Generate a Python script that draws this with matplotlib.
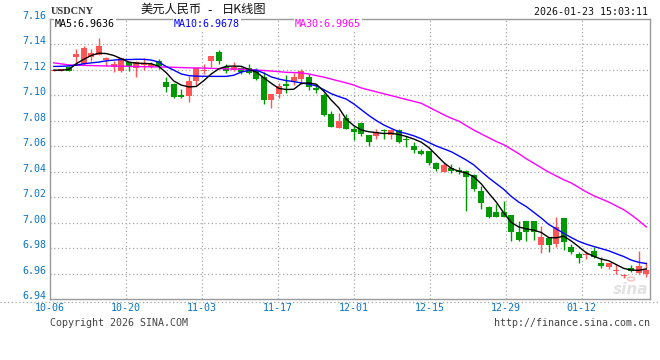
import matplotlib
matplotlib.use("Agg")
import matplotlib.pyplot as plt
from matplotlib.lines import Line2D
import numpy as np

# ---------------- data ----------------
symbol = "USDCNY"
title_left = "美元人民币"
title_right = "日K线图"
timestamp = "2026-01-23 15:03:11"
date_labels = ["10-06", "10-20", "11-03", "11-17", "12-01", "12-15", "12-29", "01-12"]
y_ticks = [6.94, 6.96, 6.98, 7.00, 7.02, 7.04, 7.06, 7.08, 7.10, 7.12, 7.14, 7.16]
ma_names = ["MA5", "MA10", "MA30"]
ma_last = [6.9636, 6.9678, 6.9965]

open_ = [7.1190, 7.1192, 7.1221, 7.1300, 7.1240, 7.1300, 7.1311, 7.1278, 7.1221, 7.1190,
         7.1256, 7.1209, 7.1235, 7.1221, 7.1266, 7.1103, 7.1083, 7.1001, 7.0991, 7.1111,
         7.1190, 7.1266, 7.1335, 7.1221, 7.1200, 7.1209, 7.1209, 7.1190, 7.1138, 7.0959,
         7.1006, 7.1085, 7.1109, 7.1124, 7.1138, 7.1056, 7.0998, 7.0849, 7.0741, 7.0820,
         7.0731, 7.0780, 7.0683, 7.0676, 7.0725, 7.0683, 7.0723, 7.0652, 7.0603, 7.0557,
         7.0557, 7.0465, 7.0400, 7.0426, 7.0405, 7.0402, 7.0376, 7.0250, 7.0124, 7.0080,
         7.0080, 7.0061, 6.9922, 7.0014, 7.0014, 6.9825, 6.9875, 6.9835, 7.0035, 6.9804,
         6.9752, 6.9742, 6.9778, 6.9686, 6.9652, 6.9619, 6.9579, 6.9646, 6.9607, 6.9594]
high = [7.1205, 7.1205, 7.1225, 7.1357, 7.1387, 7.1357, 7.1445, 7.1300, 7.1266, 7.1292,
        7.1258, 7.1264, 7.1293, 7.1261, 7.1282, 7.1143, 7.1091, 7.1046, 7.1148, 7.1217,
        7.1243, 7.1308, 7.1353, 7.1240, 7.1261, 7.1221, 7.1243, 7.1209, 7.1182, 7.1004,
        7.1091, 7.1156, 7.1169, 7.1203, 7.1161, 7.1085, 7.1017, 7.0872, 7.0859, 7.0854,
        7.0754, 7.0788, 7.0683, 7.0731, 7.0736, 7.0736, 7.0736, 7.0676, 7.0635, 7.0578,
        7.0560, 7.0473, 7.0465, 7.0461, 7.0434, 7.0408, 7.0382, 7.0289, 7.0130, 7.0149,
        7.0172, 7.0061, 7.0014, 7.0014, 7.0014, 6.9975, 6.9883, 7.0040, 7.0035, 6.9831,
        6.9765, 6.9778, 6.9804, 6.9731, 6.9686, 6.9673, 6.9600, 6.9668, 6.9778, 6.9694]
low = [7.1185, 7.1188, 7.1188, 7.1235, 7.1237, 7.1266, 7.1311, 7.1229, 7.1182, 7.1178,
       7.1190, 7.1138, 7.1195, 7.1209, 7.1201, 7.1024, 7.0977, 7.0980, 7.0946, 7.1072,
       7.1161, 7.1221, 7.1240, 7.1169, 7.1187, 7.1161, 7.1161, 7.1116, 7.0928, 7.0898,
       7.0980, 7.1012, 7.1077, 7.1083, 7.1043, 7.1012, 7.0835, 7.0749, 7.0741, 7.0731,
       7.0644, 7.0676, 7.0597, 7.0657, 7.0657, 7.0657, 7.0623, 7.0591, 7.0544, 7.0531,
       7.0453, 7.0402, 7.0395, 7.0387, 7.0382, 7.0087, 7.0245, 7.0107, 7.0035, 7.0040,
       7.0040, 6.9851, 6.9851, 6.9851, 6.9861, 6.9757, 6.9765, 6.9804, 6.9787, 6.9752,
       6.9686, 6.9712, 6.9722, 6.9642, 6.9634, 6.9599, 6.9563, 6.9614, 6.9599, 6.9573]
close = [7.1200, 7.1198, 7.1190, 7.1319, 7.1371, 7.1331, 7.1386, 7.1282, 7.1240, 7.1287,
         7.1229, 7.1261, 7.1245, 7.1240, 7.1227, 7.1064, 7.0985, 7.0987, 7.1109, 7.1209,
         7.1200, 7.1308, 7.1269, 7.1190, 7.1217, 7.1182, 7.1170, 7.1124, 7.0959, 7.1004,
         7.1072, 7.1072, 7.1143, 7.1187, 7.1064, 7.1038, 7.0841, 7.0749, 7.0796, 7.0731,
         7.0710, 7.0691, 7.0631, 7.0710, 7.0720, 7.0728, 7.0631, 7.0647, 7.0568, 7.0534,
         7.0468, 7.0421, 7.0453, 7.0402, 7.0400, 7.0355, 7.0264, 7.0150, 7.0045, 7.0046,
         7.0046, 6.9928, 6.9865, 6.9922, 6.9922, 6.9883, 6.9823, 6.9967, 6.9850, 6.9765,
         6.9720, 6.9746, 6.9731, 6.9660, 6.9686, 6.9623, 6.9583, 6.9620, 6.9660, 6.9628]

ma5 = [7.1195, 7.1195, 7.1200, 7.1245, 7.1280, 7.1310, 7.1328, 7.1325, 7.1310, 7.1285,
       7.1258, 7.1250, 7.1248, 7.1245, 7.1225, 7.1175, 7.1110, 7.1078, 7.1063, 7.1067,
       7.1112, 7.1165, 7.1205, 7.1225, 7.1227, 7.1225, 7.1200, 7.1180, 7.1135, 7.1092,
       7.1052, 7.1043, 7.1045, 7.1090, 7.1095, 7.1085, 7.1030, 7.0960, 7.0900, 7.0810,
       7.0760, 7.0725, 7.0712, 7.0705, 7.0698, 7.0700, 7.0690, 7.0675, 7.0655, 7.0630,
       7.0588, 7.0530, 7.0470, 7.0425, 7.0402, 7.0388, 7.0360, 7.0303, 7.0230, 7.0160,
       7.0075, 7.0000, 6.9965, 6.9950, 6.9940, 6.9922, 6.9882, 6.9880, 6.9893, 6.9855,
       6.9810, 6.9762, 6.9735, 6.9713, 6.9700, 6.9670, 6.9640, 6.9627, 6.9625, 6.9636]
ma10 = [7.1224, 7.1225, 7.1228, 7.1234, 7.1245, 7.1252, 7.1258, 7.1268, 7.1274, 7.1278,
        7.1278, 7.1280, 7.1280, 7.1274, 7.1258, 7.1223, 7.1195, 7.1165, 7.1152, 7.1148,
        7.1147, 7.1146, 7.1146, 7.1146, 7.1155, 7.1180, 7.1192, 7.1195, 7.1172, 7.1142,
        7.1125, 7.1113, 7.1105, 7.1095, 7.1085, 7.1072, 7.1042, 7.1010, 7.0988, 7.0968,
        7.0930, 7.0885, 7.0840, 7.0800, 7.0765, 7.0738, 7.0712, 7.0698, 7.0680, 7.0657,
        7.0628, 7.0600, 7.0578, 7.0555, 7.0523, 7.0490, 7.0452, 7.0400, 7.0350, 7.0305,
        7.0260, 7.0205, 7.0160, 7.0125, 7.0080, 7.0035, 6.9985, 6.9950, 6.9915, 6.9882,
        6.9852, 6.9830, 6.9812, 6.9795, 6.9778, 6.9755, 6.9733, 6.9705, 6.9688, 6.9678]
ma30 = [7.1252, 7.1244, 7.1236, 7.1234, 7.1232, 7.1231, 7.1229, 7.1228, 7.1227, 7.1226,
        7.1225, 7.1223, 7.1222, 7.1221, 7.1220, 7.1219, 7.1217, 7.1215, 7.1213, 7.1212,
        7.1211, 7.1209, 7.1207, 7.1205, 7.1203, 7.1202, 7.1200, 7.1196, 7.1192, 7.1188,
        7.1183, 7.1178, 7.1176, 7.1173, 7.1165, 7.1152, 7.1140, 7.1125, 7.1110, 7.1095,
        7.1078, 7.1055, 7.1040, 7.1025, 7.1010, 7.0995, 7.0980, 7.0965, 7.0950, 7.0935,
        7.0905, 7.0875, 7.0845, 7.0818, 7.0795, 7.0760, 7.0725, 7.0695, 7.0665, 7.0635,
        7.0610, 7.0575, 7.0540, 7.0500, 7.0465, 7.0430, 7.0395, 7.0365, 7.0335, 7.0310,
        7.0275, 7.0240, 7.0210, 7.0185, 7.0160, 7.0130, 7.0100, 7.0060, 7.0015, 6.9965]

# ---------------- layout ----------------
W, H = 660, 360
def fx(px):
    return px / W
def fy(py):
    return 1 - py / H

PLOT_L, PLOT_R, PLOT_T, PLOT_B = 50, 650, 18.5, 299
MONO = "DejaVu Sans Mono"
CJK = ["Noto Sans CJK SC", "DejaVu Sans"]
FS = 7.2
UP, DOWN = "#ff5555", "#009a00"
GRID = "#a8a8a8"
BORDER = "#9a9a9a"
LABEL_BLUE = "#0a74c4"

fig = plt.figure(figsize=(W / 100, H / 100), dpi=100)
fig.patch.set_facecolor("white")
ax = fig.add_axes([fx(PLOT_L), fy(PLOT_B), (PLOT_R - PLOT_L) / W, (PLOT_B - PLOT_T) / H])

n = len(close)
x = np.arange(n)
ax.set_xlim(-0.5, n - 0.5)
ax.set_ylim(y_ticks[0], y_ticks[-1])

# grid (dotted)
for v in y_ticks[1:-1]:
    ax.axhline(v, color=GRID, lw=0.9, ls=(0, (1, 2)), zorder=1)
slot_px = (PLOT_R - PLOT_L) / n
grid_step_px = (PLOT_R - PLOT_L) / 7.9
tick_pos = [-0.5 + i * grid_step_px / slot_px for i in range(len(date_labels))]
for t in tick_pos[1:]:
    ax.axvline(t, color=GRID, lw=0.9, ls=(0, (1, 2)), zorder=1)

# candles
ypp = (y_ticks[-1] - y_ticks[0]) / (PLOT_B - PLOT_T)  # price per pixel
for i in range(n):
    o, h, l, c = open_[i], high[i], low[i], close[i]
    col = UP if c >= o else DOWN
    ax.vlines(i, l, h, color=col, lw=1.0, zorder=2)
    bot = min(o, c)
    hgt = max(abs(c - o), 1.2 * ypp)
    ax.bar(i, hgt, bottom=bot, width=0.8, color=col, edgecolor=col, lw=0, zorder=3)

# moving averages
ax.plot(x, ma30, color="#ff00ff", lw=1.0, zorder=4)
ax.plot(x, ma10, color="#0000ff", lw=1.0, zorder=5)
ax.plot(x, ma5, color="#000000", lw=1.0, zorder=6)

# axes styling
ax.set_xticks([])
ax.set_yticks([])
for s in ax.spines.values():
    s.set_color(BORDER)
    s.set_linewidth(1.0)

# y labels
for v in y_ticks:
    ax.text(-4 / (PLOT_R - PLOT_L), v, f"{v:.2f}", transform=ax.get_yaxis_transform(),
            ha="right", va="baseline", fontsize=FS, family=MONO, color=LABEL_BLUE)

# x labels
for t, lab in zip(tick_pos, date_labels):
    ax.text(t, -(308 - PLOT_B) / (PLOT_B - PLOT_T), lab, transform=ax.get_xaxis_transform(),
            ha="center", va="center", fontsize=FS, family=MONO, color=LABEL_BLUE, clip_on=False)

# dotted line under the axis
fig.add_artist(Line2D([0, 1], [fy(302), fy(302)], transform=fig.transFigure,
                      color=GRID, lw=0.9, ls=(0, (1, 2))))

# legend row
ma_colors = ["#000000", "#0000ff", "#ff00ff"]
ma_x = [55, 174, 295]
for name, val, colr, px in zip(ma_names, ma_last, ma_colors, ma_x):
    fig.text(fx(px), fy(23.8), f"{name}:{val:.4f}", ha="left", va="center", fontsize=FS,
             family=MONO, color=colr,
             bbox=dict(facecolor="white", edgecolor="none", pad=0.6))

# header
fig.text(fx(51), fy(11.8), symbol, ha="left", va="center", fontsize=7.5,
         family="Liberation Serif", fontweight="bold", color="#333333")
fig.text(fx(140), fy(9.8), title_left, ha="left", va="center", fontsize=8.8,
         family=CJK, color="#111111")
fig.text(fx(209.5), fy(10.3), "-", ha="center", va="center", fontsize=9,
         family="DejaVu Sans", color="#111111")
fig.text(fx(222), fy(9.8), title_right, ha="left", va="center", fontsize=8.8,
         family=CJK, color="#111111")
fig.text(fx(648), fy(11.8), timestamp, ha="right", va="center", fontsize=FS,
         family=MONO, color="#111111")

# footer
fig.text(fx(50), fy(323), "Copyright 2026 SINA.COM", ha="left", va="center",
         fontsize=FS, family=MONO, color="#444444")
fig.text(fx(650), fy(323), "http://finance.sina.com.cn", ha="right", va="center",
         fontsize=FS, family=MONO, color="#444444")

# watermark
fig.text(fx(631), fy(290), "sina", ha="center", va="center", fontsize=11,
         fontweight="bold", style="italic", color="#e2e2e2", zorder=0)
fig.add_artist(plt.Circle((fx(631), fy(279)), 3.5 / W, transform=fig.transFigure,
                          facecolor="none", edgecolor="#f2c8c8", lw=1.2))

fig.savefig("out.png", dpi=100, facecolor="white")
